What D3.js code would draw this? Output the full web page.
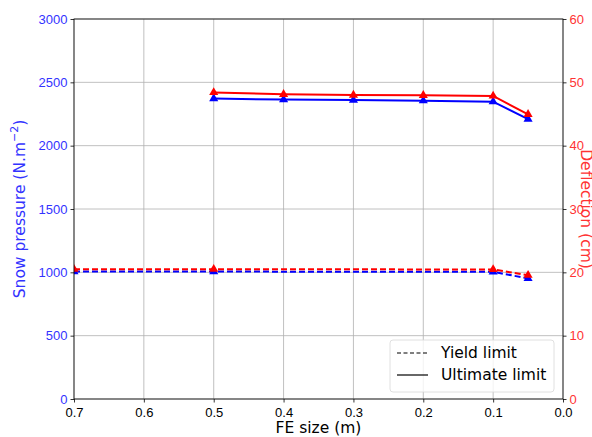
<!DOCTYPE html>
<html>
<head>
<meta charset="utf-8">
<script src="https://cdn.jsdelivr.net/npm/d3@7"></script>
<style>
  body { margin: 0; background: #fff; }
  svg { font-family: "DejaVu Sans", sans-serif; }
</style>
</head>
<body>
<div id="chart"></div>
<script>
// FE sizes (m)
const sizesUlt = [0.5, 0.4, 0.3, 0.2, 0.1, 0.05];
const sizesYield = [0.7, 0.5, 0.1, 0.05];

// Snow pressure (N.m^-2)
const pressureUlt = [2372, 2364, 2360, 2355, 2347, 2210];
const pressureYield = [1006, 1006, 1004, 952];

// Deflection (cm)
const deflectionUlt = [48.4, 48.1, 48.0, 47.95, 47.85, 44.95];
const deflectionYield = [20.5, 20.5, 20.45, 19.55];

const xTicks = [0.7, 0.6, 0.5, 0.4, 0.3, 0.2, 0.1, 0.0];
const leftTicks = [0, 500, 1000, 1500, 2000, 2500, 3000];
const rightTicks = [0, 10, 20, 30, 40, 50, 60];

const width = 592, height = 437;
const m = { left: 74, right: 29, top: 19, bottom: 38 };

const svg = d3.select("#chart").append("svg")
    .attr("width", width)
    .attr("height", height);

const x = d3.scaleLinear().domain([0.7, 0.0]).range([m.left, width - m.right]);
const yL = d3.scaleLinear().domain([0, 3000]).range([height - m.bottom, m.top]);
const yR = d3.scaleLinear().domain([0, 60]).range([height - m.bottom, m.top]);

const blue = "#0000ff", red = "#ff0000";

// grid
svg.append("g").selectAll("line").data(xTicks).join("line")
    .attr("x1", d => x(d)).attr("x2", d => x(d))
    .attr("y1", m.top).attr("y2", height - m.bottom)
    .attr("stroke", "#b0b0b0").attr("stroke-width", 0.8);
svg.append("g").selectAll("line").data(leftTicks).join("line")
    .attr("x1", m.left).attr("x2", width - m.right)
    .attr("y1", d => yL(d)).attr("y2", d => yL(d))
    .attr("stroke", "#b0b0b0").attr("stroke-width", 0.8);

svg.append("clipPath").attr("id", "plot")
  .append("rect")
    .attr("x", m.left).attr("y", m.top)
    .attr("width", width - m.left - m.right)
    .attr("height", height - m.top - m.bottom);

const plot = svg.append("g").attr("clip-path", "url(#plot)");
const tri = d3.symbol().type(d3.symbolTriangle).size(36);

function series(xs, ys, yScale, color, dashed) {
  const pts = xs.map((d, i) => [x(d), yScale(ys[i])]);
  plot.append("path")
      .attr("d", d3.line()(pts))
      .attr("fill", "none")
      .attr("stroke", color)
      .attr("stroke-width", 2)
      .attr("stroke-dasharray", dashed ? "6,3" : null);
  plot.append("g").selectAll("path").data(pts).join("path")
      .attr("transform", d => `translate(${d[0]},${d[1]})`)
      .attr("d", tri)
      .attr("fill", color);
}

series(sizesYield, pressureYield, yL, blue, true);
series(sizesYield, deflectionYield, yR, red, true);
series(sizesUlt, pressureUlt, yL, blue, false);
series(sizesUlt, deflectionUlt, yR, red, false);

// axes
const gx = svg.append("g")
    .attr("transform", `translate(0,${height - m.bottom})`)
    .call(d3.axisBottom(x).tickValues(xTicks).tickFormat(d3.format(".1f")).tickSizeOuter(0).tickSize(3.5));
gx.selectAll("text").attr("fill", "#000").attr("font-size", 13).attr("dy", "0.85em");

const gl = svg.append("g")
    .attr("transform", `translate(${m.left},0)`)
    .call(d3.axisLeft(yL).tickValues(leftTicks).tickFormat(d3.format("d")).tickSizeOuter(0).tickSize(3.5));
gl.selectAll("text").attr("fill", "#3333ff").attr("font-size", 13);

const gr = svg.append("g")
    .attr("transform", `translate(${width - m.right},0)`)
    .call(d3.axisRight(yR).tickValues(rightTicks).tickFormat(d3.format("d")).tickSizeOuter(0).tickSize(3.5));
gr.selectAll("text").attr("fill", "#ff3333").attr("font-size", 13);

svg.selectAll(".domain").remove();
svg.selectAll(".tick line").attr("stroke", "#000").attr("stroke-width", 0.8);

// frame
svg.append("rect")
    .attr("x", m.left).attr("y", m.top)
    .attr("width", width - m.left - m.right)
    .attr("height", height - m.top - m.bottom)
    .attr("fill", "none").attr("stroke", "#000").attr("stroke-width", 0.8);

// axis labels
svg.append("text")
    .attr("x", (m.left + width - m.right) / 2).attr("y", 433)
    .attr("text-anchor", "middle").attr("font-size", 15.5).attr("fill", "#000")
    .text("FE size (m)");

const ylab = svg.append("text")
    .attr("transform", `translate(25,${(m.top + height - m.bottom) / 2}) rotate(-90)`)
    .attr("text-anchor", "middle").attr("font-size", 15.5).attr("fill", "#3333ff");
ylab.append("tspan").text("Snow pressure (N.m");
ylab.append("tspan").attr("dy", -7).attr("font-size", 11).text("\u22122");
ylab.append("tspan").attr("dy", 7).text(")");

svg.append("text")
    .attr("transform", `translate(581,${(m.top + height - m.bottom) / 2}) rotate(90)`)
    .attr("text-anchor", "middle").attr("font-size", 15.5).attr("fill", "#ff3333")
    .text("Deflection (cm)");

// legend
const lg = svg.append("g").attr("transform", "translate(390,340)");
lg.append("rect")
    .attr("width", 164).attr("height", 52).attr("rx", 3)
    .attr("fill", "#fff").attr("fill-opacity", 0.8)
    .attr("stroke", "#d8d8d8").attr("stroke-width", 0.8);
const items = [["Yield limit", "4,2.5"], ["Ultimate limit", null]];
items.forEach((it, i) => {
  const yy = 13 + i * 22;
  lg.append("line")
      .attr("x1", 7).attr("x2", 38).attr("y1", yy).attr("y2", yy)
      .attr("stroke", "#000").attr("stroke-width", 1.2)
      .attr("stroke-dasharray", it[1]);
  lg.append("text")
      .attr("x", 51).attr("y", yy).attr("dy", "0.35em")
      .attr("font-size", 15.5).attr("fill", "#000")
      .text(it[0]);
});
</script>
</body>
</html>
